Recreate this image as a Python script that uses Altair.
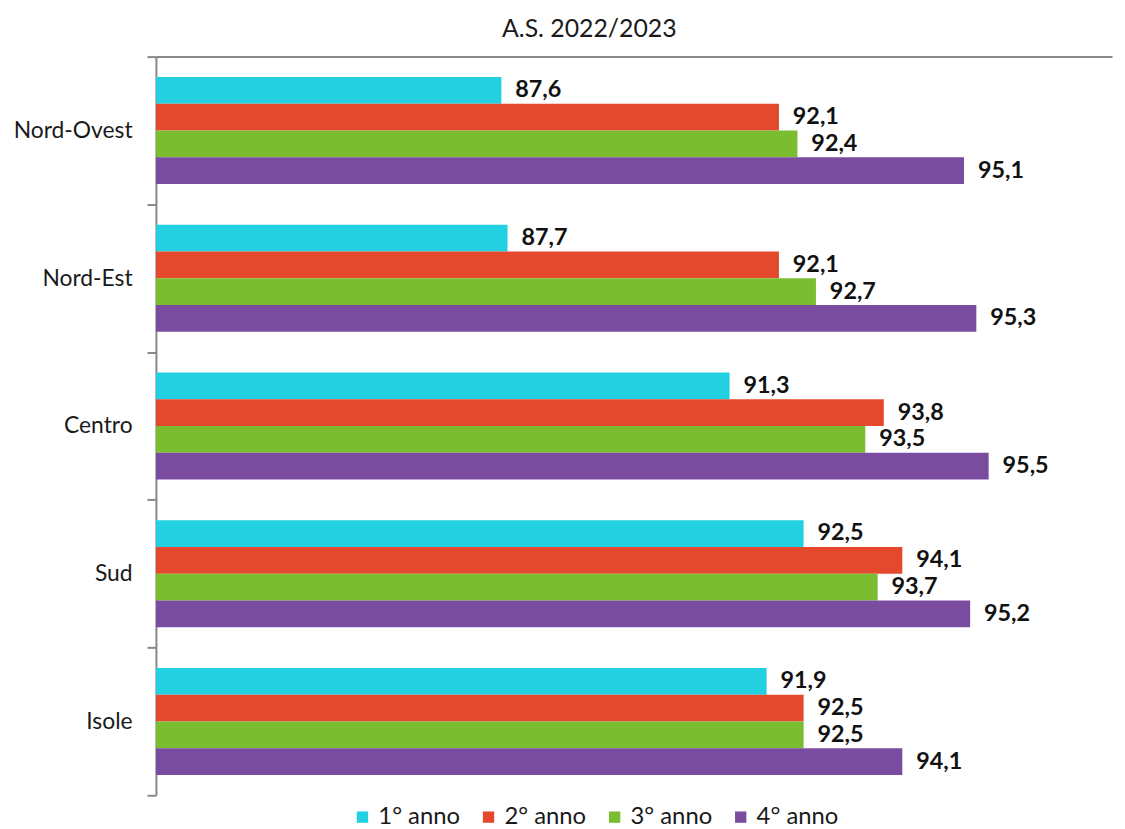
import altair as alt
import pandas as pd

regions = ["Nord-Ovest", "Nord-Est", "Centro", "Sud", "Isole"]
series = ["1° anno", "2° anno", "3° anno", "4° anno"]
anno1 = [87.6, 87.7, 91.3, 92.5, 91.9]
anno2 = [92.1, 92.1, 93.8, 94.1, 92.5]
anno3 = [92.4, 92.7, 93.5, 93.7, 92.5]
anno4 = [95.1, 95.3, 95.5, 95.2, 94.1]
colors = ["#22D0E2", "#E5492D", "#7BBD31", "#7A4C9F"]

rows = []
for s, vals in zip(series, [anno1, anno2, anno3, anno4]):
    for r, v in zip(regions, vals):
        rows.append({"region": r, "series": s, "value": v})
df = pd.DataFrame(rows)

FONT = "Lato"

y = alt.Y("region:N", sort=regions, title=None,
          scale=alt.Scale(paddingInner=0, paddingOuter=0),
          axis=alt.Axis(tickBand="extent", tickSize=9, tickColor="#888888", tickWidth=2,
                        domainColor="#888888", domainWidth=2,
                        labelFont=FONT, labelFontSize=23, labelColor="#1a1a1a",
                        labelPadding=15, grid=False))
x = alt.X("value:Q", title=None,
          scale=alt.Scale(domain=[82, 97.5], nice=False, zero=False, clamp=True),
          axis=alt.Axis(orient="top", labels=False, ticks=False, grid=False,
                        domainColor="#888888", domainWidth=2))
yoff = alt.YOffset("series:N", sort=series, scale=alt.Scale(paddingOuter=0.76, paddingInner=0))

base = alt.Chart(df)
bars = base.mark_bar(stroke=None).encode(
    y=y, x=x, yOffset=yoff,
    color=alt.Color("series:N", sort=series,
                    scale=alt.Scale(domain=series, range=colors),
                    legend=alt.Legend(orient="none", legendX=196, legendY=754,
                                      direction="horizontal", title=None,
                                      symbolType="square", symbolSize=130, symbolStrokeWidth=0,
                                      labelFont=FONT, labelFontSize=24, labelColor="#1a1a1a",
                                      columnPadding=16, labelOffset=4)),
)
text = base.mark_text(align="left", baseline="middle", dx=14, font=FONT,
                      fontSize=23.5, fontWeight="bold", color="#111111").transform_calculate(
    label="replace(format(datum.value, '.1f'), '.', ',')"
).encode(y=y, x=x, yOffset=yoff, text="label:N")

chart = (bars + text).properties(
    width=963, height=744,
    title=alt.TitleParams("A.S. 2022/2023", font=FONT, fontSize=25, fontWeight="normal",
                          color="#1a1a1a", anchor="middle", dx=-45, offset=4),
    autosize=alt.AutoSizeParams(type="none"),
    padding={"left": 149, "top": 46, "right": 5, "bottom": 30},
).configure_view(stroke=None)

chart.save("out.html", embed_options={"renderer": "svg", "actions": False})
